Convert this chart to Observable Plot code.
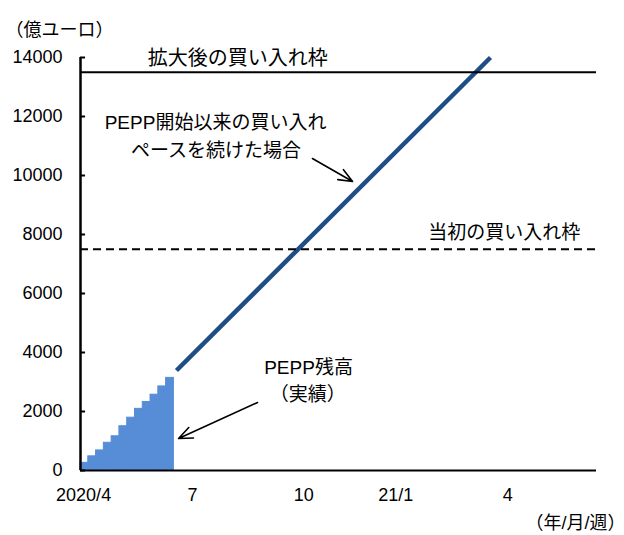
<!DOCTYPE html>
<html>
<head>
<meta charset="utf-8">
<script src="https://cdn.jsdelivr.net/npm/d3@7"></script>
<script src="https://cdn.jsdelivr.net/npm/@observablehq/plot@0.6"></script>
<style>
  html, body { margin: 0; padding: 0; background: #fff; }
  #chart svg { display: block; }
</style>
</head>
<body>
<div id="chart"></div>
<script>
// ---- data ----
// weekly PEPP holdings (actual), 100 million euro; week index from 2020/4
const actualWeeks = [0, 1, 2, 3, 4, 5, 6, 7, 8, 9, 10, 11];
const actualValues = [260, 480, 680, 940, 1160, 1500, 1790, 2090, 2320, 2570, 2850, 3140];

// projection if the purchase pace since PEPP start continued
const projWeeks = [12.33, 52.68];
const projValues = [3390, 14000];

// purchase envelopes
const envelopeExpanded = 13500;
const envelopeInitial = 7500;

// axis ticks
const yTicks = [0, 2000, 4000, 6000, 8000, 10000, 12000, 14000];
const xTickWeeks = [0.4, 14.4, 28.7, 40.5, 54.9];
const xTickLabels = ["2020/4", "7", "10", "21/1", "4"];

// annotations
const labelTexts = ["拡大後の買い入れ枠", "PEPP開始以来の買い入れ", "ペースを続けた場合", "当初の買い入れ枠", "PEPP残高", "（実績）"];
const labelWeeks = [20.2, 17.35, 17.4, 54.46, 29.3, 29.2];
const labelValues = [13960, 11797, 10847, 8068, 3492, 2576];
const labelSizes = [20, 19, 19, 19, 19, 19];

const arrowFromWeeks = [29.8, 22.75];
const arrowFromValues = [10576, 2305];
const arrowToWeeks = [34.96, 12.6];
const arrowToValues = [9797, 1085];

const yUnit = "（億ユーロ）";
const xUnit = "（年/月/週）";

const xMax = 66.3;
const yMax = 14000;
const tickLen = 0.65; // inward tick length in week units

// ---- build tables ----
const bars = actualWeeks.map((w, i) => ({x1: w, x2: w + 1, y: actualValues[i]}));
const proj = projWeeks.map((w, i) => ({x: w, y: projValues[i]}));
const labels = labelTexts.map((t, i) => ({t, x: labelWeeks[i], y: labelValues[i], s: labelSizes[i]}));
const arrows = arrowFromWeeks.map((w, i) => ({x1: w, y1: arrowFromValues[i], x2: arrowToWeeks[i], y2: arrowToValues[i]}));
const hLines = [{y: 0, x1: 0, x2: xMax}, {y: envelopeExpanded, x1: 0, x2: xMax}];
const yTickMarks = yTicks.map(v => ({y: v, x1: 0, x2: tickLen}));
const xTickTable = xTickWeeks.map((w, i) => ({x: w, t: xTickLabels[i]}));

const FONT = '"Liberation Sans", "Noto Sans CJK JP", sans-serif';

const chart = Plot.plot({
  width: 624,
  height: 535,
  marginLeft: 80,
  marginRight: 28,
  marginTop: 57,
  marginBottom: 65,
  style: {fontFamily: FONT, fontSize: "18px", color: "#000"},
  x: {domain: [0, xMax], axis: null},
  y: {domain: [0, yMax], axis: null},
  marks: [
    Plot.rectY(bars, {x1: "x1", x2: "x2", y1: 0, y2: "y", fill: "#568DD6", stroke: "#568DD6", strokeWidth: 1, inset: 0}),
    Plot.line(proj, {x: "x", y: "y", stroke: "#1F4E87", strokeWidth: 4.5, strokeLinecap: "butt"}),
    // tick labels
    Plot.text(yTicks, {x: 0, y: d => d, text: d => String(d), dx: -18, textAnchor: "end", fontSize: 18, fill: "#000"}),
    Plot.text(xTickTable, {x: "x", y: 0, text: "t", dy: 25, textAnchor: "middle", fontSize: 18, fill: "#000"}),
    // annotations
    Plot.text(labels, {x: "x", y: "y", text: "t", fontSize: d => d.s, textAnchor: "middle", lineAnchor: "middle", fill: "#000"}),
    Plot.arrow(arrows, {x1: "x1", y1: "y1", x2: "x2", y2: "y2", stroke: "#000", strokeWidth: 1.6, headLength: 14, headAngle: 45}),
    Plot.text([yUnit], {frameAnchor: "top-left", dx: -75, dy: -34, textAnchor: "start", fontSize: 18, fill: "#000"}),
    Plot.text([xUnit], {frameAnchor: "bottom-right", dx: -71, dy: 58, textAnchor: "start", fontSize: 18, fill: "#000"}),
    // reference lines and axes, drawn last
    Plot.ruleY(hLines, {y: "y", x1: "x1", x2: "x2", stroke: "#000", strokeWidth: 2}),
    Plot.ruleY([{y: envelopeInitial, x1: 0, x2: xMax}], {y: "y", x1: "x1", x2: "x2", stroke: "#000", strokeWidth: 2, strokeDasharray: "8,5"}),
    Plot.ruleY(yTickMarks, {y: "y", x1: "x1", x2: "x2", stroke: "#000", strokeWidth: 2}),
    Plot.ruleX([0], {y1: 0, y2: yMax, stroke: "#000", strokeWidth: 2.5})
  ]
});
document.getElementById("chart").appendChild(chart);
</script>
</body>
</html>
